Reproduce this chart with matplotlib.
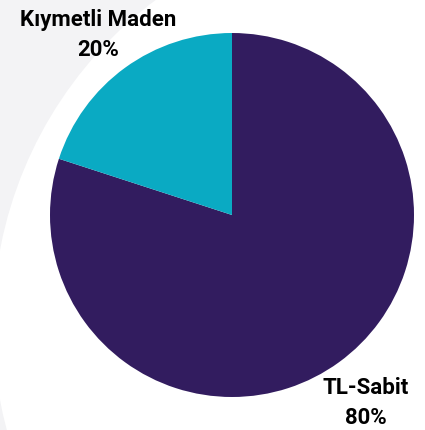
import matplotlib.pyplot as plt
from matplotlib.patches import Circle

labels = ["TL-Sabit", "Kıymetli Maden"]
shares = [80, 20]
colors = ["#321c5f", "#0aaac3"]

plt.rcParams["font.family"] = ["Roboto", "DejaVu Sans"]

fig = plt.figure(figsize=(4.25, 4.31), dpi=100)
fig.patch.set_facecolor("#f3f3f5")

ax = fig.add_axes([0, 0, 1, 1])

texts = [f"{l}\n{s}%" for l, s in zip(labels, shares)]
wedges, txts = ax.pie(
    shares,
    labels=texts,
    colors=colors,
    startangle=90,
    counterclock=False,
    center=(232, 215),
    radius=182,
    labeldistance=1.25,
    frame=True,
    textprops={"fontsize": 16, "fontweight": "bold", "ha": "center", "va": "center",
               "linespacing": 1.5},
)
# labels sit a little lower than pie puts them
for t in txts:
    x, y = t.get_position()
    t.set_position((x, y - 3))

# white swoosh behind the pie, grey left over in the upper left corner
ax.add_patch(Circle((399, 105), 406, facecolor="white", edgecolor="none", zorder=0))
ax.set_xlim(0, 425)
ax.set_ylim(0, 431)
ax.set_aspect("equal")
ax.axis("off")

fig.savefig("out.png", dpi=100)
